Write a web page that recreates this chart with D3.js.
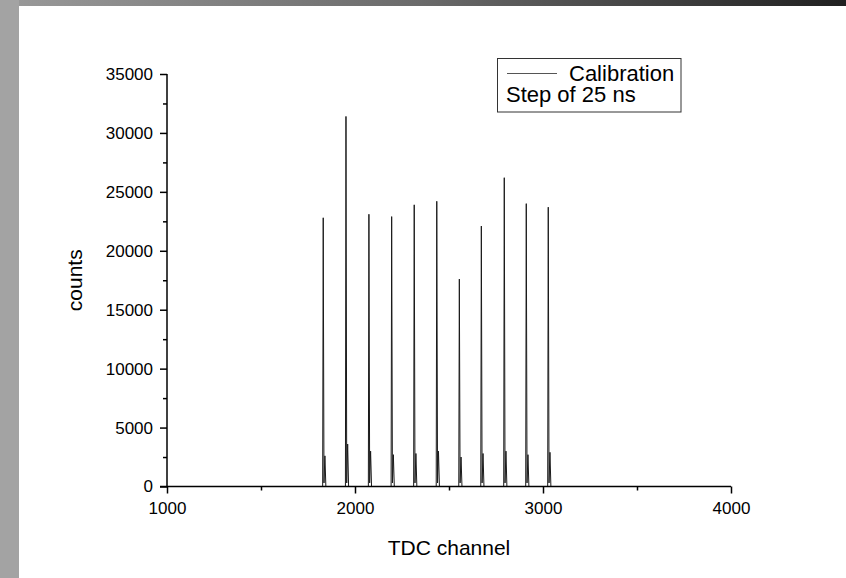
<!DOCTYPE html>
<html>
<head>
<meta charset="utf-8">
<script src="https://cdn.jsdelivr.net/npm/d3@7"></script>
<style>
  html, body { margin: 0; padding: 0; background: #fff; }
  svg { display: block; }
  text { font-family: "Liberation Sans", Arial, sans-serif; fill: #000; }
</style>
</head>
<body>
<svg id="chart" width="846" height="578"></svg>
<script>
// ---- data ----
const spectrumChannels = [
  1000,
  1828, 1831, 1835, 1840, 1845,
  1949, 1952, 1956, 1961, 1966,
  2071, 2074, 2078, 2083, 2088,
  2192, 2195, 2199, 2204, 2209,
  2312, 2315, 2319, 2324, 2329,
  2432, 2435, 2439, 2444, 2449,
  2552, 2555, 2559, 2564, 2569,
  2669, 2672, 2676, 2681, 2686,
  2791, 2794, 2798, 2803, 2808,
  2908, 2911, 2915, 2920, 2925,
  3025, 3028, 3032, 3037, 3042,
  4000
];
const spectrumCounts = [
  0,
  0, 22800, 300, 2600, 0,
  0, 31400, 300, 3600, 0,
  0, 23100, 300, 3000, 0,
  0, 22900, 300, 2700, 0,
  0, 23900, 300, 2800, 0,
  0, 24200, 300, 3000, 0,
  0, 17600, 300, 2500, 0,
  0, 22100, 300, 2800, 0,
  0, 26200, 300, 3000, 0,
  0, 24000, 300, 2700, 0,
  0, 23700, 300, 2900, 0,
  0
];
const xTicks = [1000, 2000, 3000, 4000];
const xMinorTicks = [1500, 2500, 3500];
const yTicks = [0, 5000, 10000, 15000, 20000, 25000, 30000, 35000];
const yMinorTicks = [2500, 7500, 12500, 17500, 22500, 27500, 32500];
const seriesName = "Calibration";
const legendNote = "Step of 25 ns";
const xLabel = "TDC channel";
const yLabel = "counts";

(function () {
// ---- layout ----
const svg = d3.select("#chart");
const W = 846, H = 578;
const pL = 167, pR = 731, pT = 74, pB = 486.5;

// decorative photo border
const defs = svg.append("defs");
const grad = defs.append("linearGradient").attr("id", "topgrad")
  .attr("x1", "0%").attr("x2", "100%").attr("y1", "0%").attr("y2", "0%");
grad.append("stop").attr("offset", "0%").attr("stop-color", "#9a9a9a");
grad.append("stop").attr("offset", "50%").attr("stop-color", "#6a6a6a");
grad.append("stop").attr("offset", "100%").attr("stop-color", "#202020");
svg.append("rect").attr("x", 0).attr("y", 0).attr("width", W).attr("height", 6).attr("fill", "url(#topgrad)");
svg.append("rect").attr("x", 0).attr("y", 0).attr("width", 19).attr("height", H).attr("fill", "#a3a3a3");

const x = d3.scaleLinear().domain([1000, 4000]).range([pL, pR]);
const y = d3.scaleLinear().domain([0, 35000]).range([pB, pT]);

// spectrum line
const pts = spectrumChannels.map((c, i) => [c, spectrumCounts[i]]);
svg.append("path")
  .datum(pts)
  .attr("fill", "none")
  .attr("stroke", "#1a1a1a")
  .attr("stroke-width", 1)
  .attr("d", d3.line().x(d => x(d[0])).y(d => y(d[1])));

// axes
const xAxis = svg.append("g").attr("transform", `translate(0,${pB})`)
  .call(d3.axisBottom(x).tickValues(xTicks).tickFormat(d3.format("d")).tickSize(7).tickPadding(8));
svg.append("g").attr("transform", `translate(0,${pB})`)
  .call(d3.axisBottom(x).tickValues(xMinorTicks).tickFormat("").tickSize(4))
  .select(".domain").remove();
const yAxis = svg.append("g").attr("transform", `translate(${pL},0)`)
  .call(d3.axisLeft(y).tickValues(yTicks).tickFormat(d3.format("d")).tickSize(7).tickPadding(7));
svg.append("g").attr("transform", `translate(${pL},0)`)
  .call(d3.axisLeft(y).tickValues(yMinorTicks).tickFormat("").tickSize(4))
  .select(".domain").remove();

svg.selectAll(".domain").attr("stroke", "#000").attr("stroke-width", 1.5);
svg.selectAll(".tick line").attr("stroke", "#000").attr("stroke-width", 1.5);
svg.selectAll(".tick text").style("font-family", "'Liberation Sans', Arial, sans-serif").style("font-size", "17px").attr("fill", "#000");
xAxis.select(".domain").attr("d", `M${pL - 7},0H${pR}`);
yAxis.select(".domain").attr("d", `M0,${pT}V${pB}`);

// axis titles
svg.append("text").attr("x", (pL + pR) / 2).attr("y", 555)
  .attr("text-anchor", "middle").style("font-size", "21px").text(xLabel);
svg.append("text").attr("transform", `translate(82,${(pT + pB) / 2}) rotate(-90)`)
  .attr("text-anchor", "middle").style("font-size", "21px").text(yLabel);

// legend
const lg = svg.append("g");
lg.append("rect").attr("x", 497.5).attr("y", 58.5).attr("width", 183.5).attr("height", 53.5)
  .attr("fill", "#fff").attr("stroke", "#333").attr("stroke-width", 1);
lg.append("line").attr("x1", 507).attr("x2", 557).attr("y1", 73.5).attr("y2", 73.5)
  .attr("stroke", "#555").attr("stroke-width", 1);
lg.append("text").attr("x", 569).attr("y", 81).style("font-size", "22px").text(seriesName);
lg.append("text").attr("x", 506).attr("y", 102).style("font-size", "22px").text(legendNote);
})();
</script>
</body>
</html>
